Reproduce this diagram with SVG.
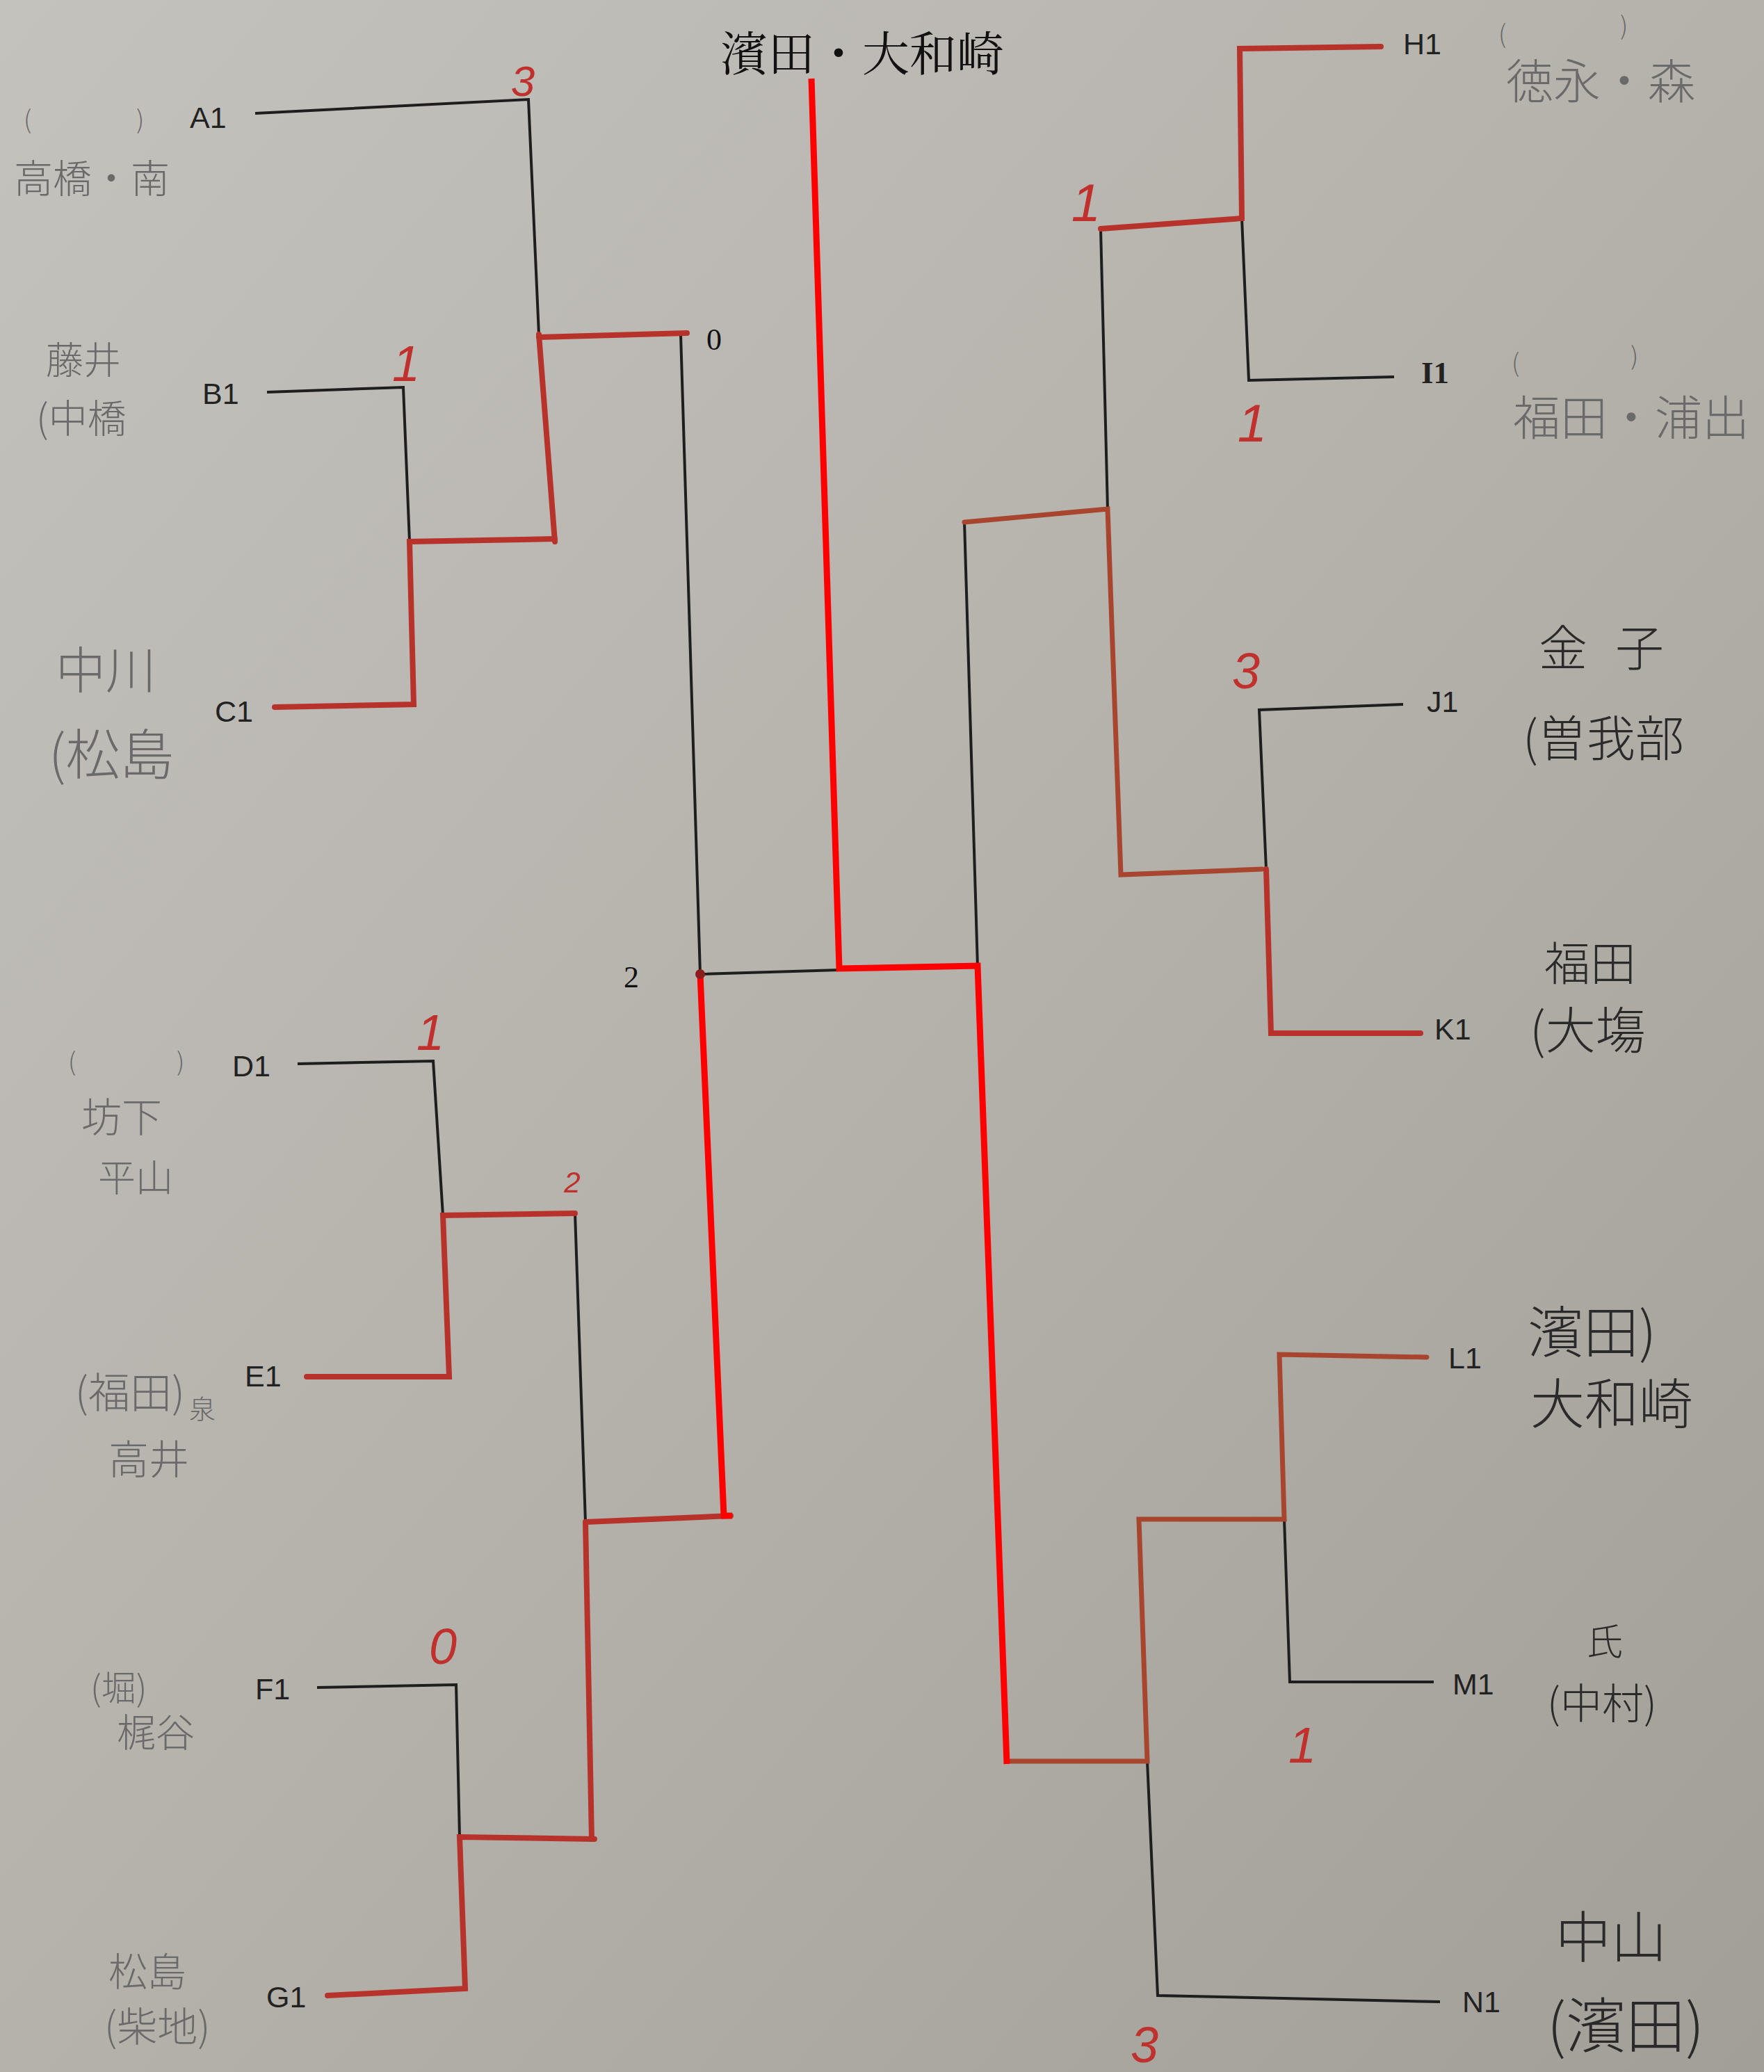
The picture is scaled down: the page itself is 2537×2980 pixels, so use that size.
<svg xmlns="http://www.w3.org/2000/svg" width="2537" height="2980" viewBox="0 0 2537 2980">
<defs>
<linearGradient id="paper" x1="0" y1="0" x2="1" y2="1">
<stop offset="0" stop-color="#c4c2bd"/>
<stop offset="0.5" stop-color="#b5b2ac"/>
<stop offset="1" stop-color="#a29e98"/>
</linearGradient>
<style>
.ln{fill:none;stroke:#1e1e1e;stroke-width:4;stroke-linejoin:miter;stroke-linecap:butt}
.mk{fill:none;stroke:#b8322c;stroke-width:8;stroke-linejoin:miter;stroke-linecap:round}
.br{fill:none;stroke:#a8452f;stroke-width:7;stroke-linejoin:miter;stroke-linecap:round}
.win{fill:none;stroke:#ff0000;stroke-width:9;stroke-linejoin:miter;stroke-linecap:butt}
.id{font-family:"Liberation Sans",Arial,sans-serif;font-size:43px;fill:#222}
.ids{font-family:"Liberation Serif",serif;font-weight:bold;font-size:45px;fill:#222}
.nm{font-family:"Noto Sans CJK JP",sans-serif;fill:#6a6a6a;font-weight:300}
.nd{font-family:"Noto Sans CJK JP",sans-serif;fill:#2a2a2a;font-weight:300}
.sc{font-family:"Liberation Sans",Arial,sans-serif;font-style:italic;fill:#c0302c;text-anchor:middle}
.num{font-family:"Liberation Serif",serif;font-size:44px;fill:#111}
.title{font-family:"Noto Serif CJK JP","Noto Sans CJK JP",serif;font-size:68px;fill:#111}
</style>
</defs>
<rect x="0" y="0" width="2537" height="2980" fill="url(#paper)"/>

<text class="title" x="1036" y="102">濱田・大和崎</text>
<text class="num" x="1016" y="503">0</text>
<text class="num" x="897" y="1420">2</text>

<g id="connectors">
<!-- black bracket lines -->
<path class="ln" d="M367,163 L760,143 L775,481"/>
<path class="ln" d="M979,481 L1007,1401 L1207,1395"/>
<path class="ln" d="M384,564 L580,557 L589,779"/>
<path class="ln" d="M428,1530 L623,1526 L637,1748"/>
<path class="ln" d="M827,1745 L842,2189"/>
<path class="ln" d="M456,2427 L656,2423 L661,2642"/>
<path class="ln" d="M1387,751 L1406,1391"/>
<path class="ln" d="M1786,314 L1796,547 L2005,542"/>
<path class="ln" d="M1583,329 L1593,732"/>
<path class="ln" d="M2018,1013 L1811,1021 L1821,1250"/>
<path class="ln" d="M1847,2185 L1855,2419 L2062,2419"/>
<path class="ln" d="M1650,2533 L1665,2870 L2071,2879"/>
<!-- red marker (winners) -->
<path class="mk" d="M775,481 L798,779"/>
<path class="mk" d="M775,485 L988,479"/>
<path class="mk" d="M395,1017 L595,1013 L589,779 L798,775"/>
<path class="mk" d="M441,1980 L646,1980 L637,1748 L827,1745"/>
<path class="mk" d="M842,2189 L851,2645"/>
<path class="mk" d="M842,2189 L1051,2180"/>
<path class="mk" d="M471,2870 L669,2860 L661,2642 L855,2645"/>
<path class="mk" d="M1986,67 L1783,70 L1786,314 L1583,329"/>
<path class="br" d="M1387,751 L1593,732 L1612,1258 L1815,1250"/>
<path class="mk" d="M1821,1250 L1828,1486 L2043,1486"/>
<path class="br" d="M2052,1952 L1840,1948 L1847,2185 L1638,2185 L1650,2533 L1448,2533"/>
<!-- bright red overlay -->
<path class="win" d="M1167,113 L1207,1393 L1406,1389 L1448,2537"/>
<path class="win" d="M1007,1401 L1041,2180 L1053,2180"/>
<circle cx="1007" cy="1401" r="7" fill="#8a1e1e"/>
</g>

<g id="scores">
<text class="sc" x="752" y="138" font-size="62">3</text>
<text class="sc" x="584" y="548" font-size="72">1</text>
<text class="sc" x="619" y="1510" font-size="72">1</text>
<text class="sc" x="823" y="1715" font-size="42">2</text>
<text class="sc" x="637" y="2393" font-size="72">0</text>
<text class="sc" x="1562" y="318" font-size="76">1</text>
<text class="sc" x="1801" y="635" font-size="76">1</text>
<text class="sc" x="1792" y="990" font-size="72">3</text>
<text class="sc" x="1873" y="2535" font-size="72">1</text>
<text class="sc" x="1646" y="2966" font-size="72">3</text>
</g>

<g id="A1">
<text class="id" x="273" y="184">A1</text>
<text class="nm" x="34" y="185" font-size="36">(</text>
<text class="nm" x="196" y="185" font-size="36">)</text>
<text class="nm" x="20" y="277" font-size="56">高橋・南</text>
</g>
<g id="B1">
<text class="id" x="291" y="581">B1</text>
<text class="nm" x="66" y="538" font-size="54" fill="#555">藤井</text>
<text class="nm" x="52" y="622" font-size="56" fill="#555">(中橋</text>
</g>
<g id="C1">
<text class="id" x="309" y="1038">C1</text>
<text class="nm" x="80" y="990" font-size="72" fill="#555">中川</text>
<text class="nm" x="70" y="1114" font-size="78" fill="#555">(松島</text>
</g>
<g id="D1">
<text class="id" x="334" y="1548">D1</text>
<text class="nm" x="98" y="1540" font-size="36">(</text>
<text class="nm" x="254" y="1540" font-size="36">)</text>
<text class="nm" x="117" y="1628" font-size="58">坊下</text>
<text class="nm" x="141" y="1714" font-size="54">平山</text>
</g>
<g id="E1">
<text class="id" x="352" y="1994">E1</text>
<text class="nm" x="108" y="2025" font-size="60">(福田)</text>
<text class="nm" x="272" y="2040" font-size="38">泉</text>
<text class="nm" x="156" y="2120" font-size="58">高井</text>
</g>
<g id="F1">
<text class="id" x="367" y="2444">F1</text>
<text class="nm" x="130" y="2446" font-size="50">(堀)</text>
<text class="nm" x="168" y="2512" font-size="56">梶谷</text>
</g>
<g id="G1">
<text class="id" x="383" y="2887">G1</text>
<text class="nm" x="156" y="2856" font-size="56">松島</text>
<text class="nm" x="150" y="2936" font-size="58">(柴地)</text>
</g>

<g id="H1">
<text class="id" x="2018" y="78">H1</text>
<text class="nm" x="2155" y="62" font-size="36" fill="#777">(</text>
<text class="nm" x="2330" y="50" font-size="36" fill="#777">)</text>
<text class="nm" x="2166" y="142" font-size="68" fill="#777">徳永・森</text>
</g>
<g id="I1">
<text class="ids" x="2044" y="551">I1</text>
<text class="nm" x="2174" y="535" font-size="36" fill="#777">(</text>
<text class="nm" x="2345" y="525" font-size="36" fill="#777">)</text>
<text class="nm" x="2176" y="626" font-size="68" fill="#777">福田・浦出</text>
</g>
<g id="J1">
<text class="id" x="2052" y="1024">J1</text>
<text class="nd" x="2213" y="958" font-size="70" letter-spacing="40" fill="#333">金子</text>
<text class="nd" x="2190" y="1088" font-size="70" fill="#333">(曽我部</text>
</g>
<g id="K1">
<text class="id" x="2063" y="1495">K1</text>
<text class="nd" x="2221" y="1410" font-size="66" fill="#333">福田</text>
<text class="nd" x="2200" y="1508" font-size="72" fill="#333">(大塲</text>
</g>
<g id="L1">
<text class="id" x="2083" y="1968">L1</text>
<text class="nd" x="2197" y="1945" font-size="80">濱田)</text>
<text class="nd" x="2201" y="2048" font-size="78">大和崎</text>
</g>
<g id="M1">
<text class="id" x="2089" y="2437">M1</text>
<text class="nd" x="2282" y="2380" font-size="52" fill="#333">氏</text>
<text class="nd" x="2225" y="2472" font-size="60" fill="#333">(中村)</text>
</g>
<g id="N1">
<text class="id" x="2103" y="2894">N1</text>
<text class="nd" x="2237" y="2815" font-size="80" fill="#2a2a2a">中山</text>
<text class="nd" x="2225" y="2945" font-size="86">(濱田)</text>
</g>
</svg>
